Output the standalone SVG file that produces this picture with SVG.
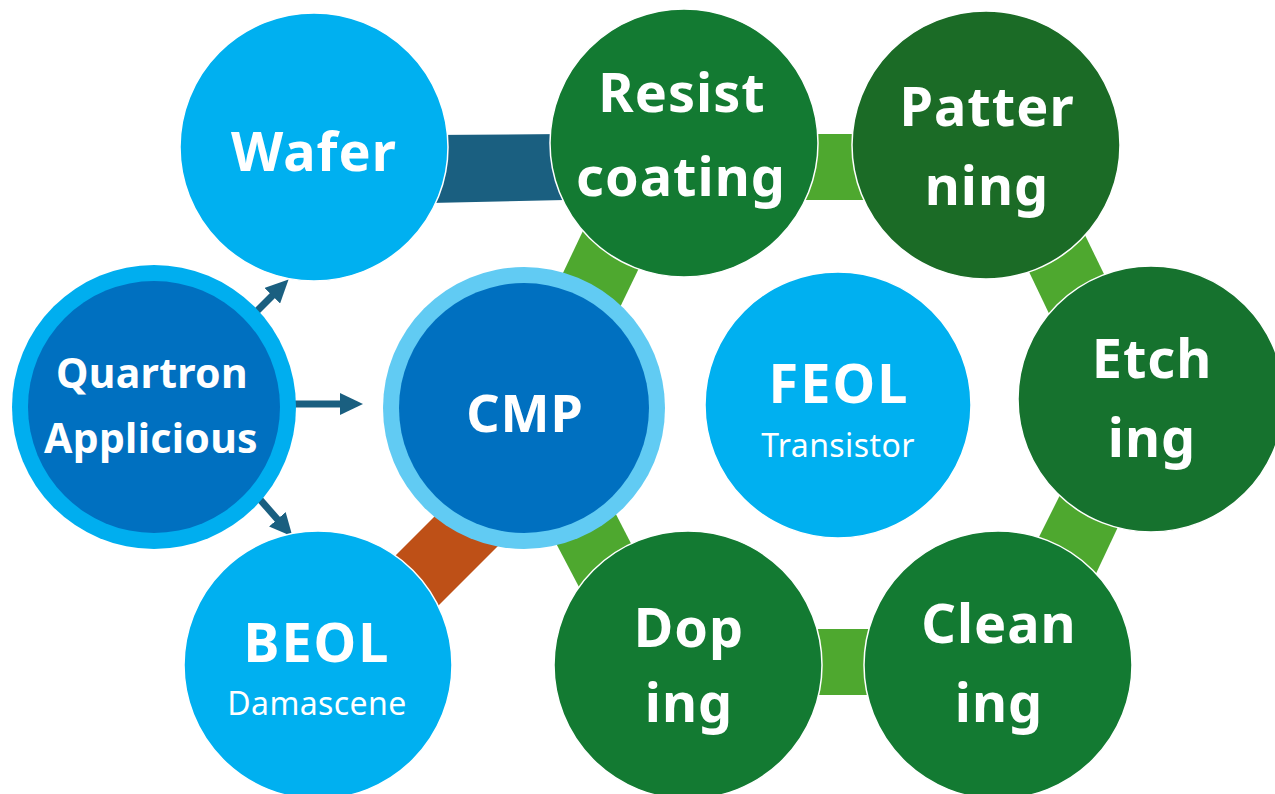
<svg xmlns="http://www.w3.org/2000/svg" width="1275" height="794" viewBox="0 0 1275 794">
<style>
.lt{fill:#00B0F0;stroke:#fff;stroke-width:1.5}
.gr{fill:#137A32;stroke:#fff;stroke-width:1.5}
.gd{fill:#1B6B26;stroke:#fff;stroke-width:1.5}
.ge{fill:#16722E;stroke:#fff;stroke-width:1.5}
.band{fill:#4EA82F}
.t{font-family:"Noto Sans","Liberation Sans",sans-serif;font-weight:bold;fill:#fff;text-anchor:middle;font-size:54px;letter-spacing:1px}
.q{font-size:41px;letter-spacing:0.3px}
.s{font-family:"Noto Sans","Liberation Sans",sans-serif;font-weight:normal;fill:#fff;text-anchor:middle;font-size:32px;letter-spacing:0.4px}
.arr{stroke:#1A5F80;stroke-width:7;fill:none;marker-end:url(#ah)}
</style>
<defs>
<marker id="ah" viewBox="0 0 23 22" markerWidth="23" markerHeight="22" markerUnits="userSpaceOnUse" refX="1" refY="11" orient="auto">
<path d="M0,0 L23,11 L0,22 z" fill="#1A5F80"/>
</marker>
</defs>
<rect width="1275" height="794" fill="#fff"/>
<g id="connectors">
<polygon points="430,135 565,134 565,200 430,203" fill="#1A5F80"/>
<rect class="band" x="790" y="134" width="90" height="66"/>
<polygon class="band" points="1010,232 1067,198 1120,307 1065,347"/>
<polygon class="band" points="1075,465 1133,495 1085,597 1025,565"/>
<rect class="band" x="800" y="629" width="90" height="66"/>
<polygon class="band" points="553,294 600,195 655,235 610,328"/>
<polygon class="band" points="548,528 605,493 655,590 600,627"/>
<polygon points="325.5,625.5 500.5,450.5 547,497 372,672" fill="#BE5017"/>
<line class="arr" x1="245" y1="323" x2="273" y2="295"/>
<line class="arr" x1="285" y1="404" x2="341" y2="404"/>
<line class="arr" x1="250" y1="488" x2="278" y2="520"/>
</g>
<g id="wafer">
<circle class="lt" cx="314" cy="147" r="134"/>
<text class="t" x="314" y="171">Wafer</text>
</g>
<g id="resist">
<circle class="gr" cx="684" cy="143" r="134"/>
<text class="t" x="682" y="112">Resist</text>
<text class="t" x="681" y="196">coating</text>
</g>
<g id="patterning">
<circle class="gd" cx="986" cy="145" r="134"/>
<text class="t" x="987" y="126">Patter</text>
<text class="t" x="987" y="205">ning</text>
</g>
<g id="etching">
<circle class="ge" cx="1151" cy="399" r="133"/>
<text class="t" x="1152" y="378">Etch</text>
<text class="t" x="1152" y="457">ing</text>
</g>
<g id="cleaning">
<circle class="gr" cx="998" cy="665" r="134"/>
<text class="t" x="999" y="643">Clean</text>
<text class="t" x="999" y="722">ing</text>
</g>
<g id="doping">
<circle class="gr" cx="688" cy="665" r="134"/>
<text class="t" x="689" y="647">Dop</text>
<text class="t" x="689" y="722">ing</text>
</g>
<g id="feol">
<circle class="lt" cx="838" cy="405" r="133"/>
<text class="t" x="839" y="403" style="letter-spacing:2px">FEOL</text>
<text class="s" x="838" y="457">Transistor</text>
</g>
<g id="beol">
<circle class="lt" cx="318" cy="665" r="134"/>
<text class="t" x="317" y="662" style="letter-spacing:2px">BEOL</text>
<text class="s" x="317" y="715">Damascene</text>
</g>
<g id="cmp">
<circle cx="524" cy="408" r="141" fill="#61CBF3"/>
<circle cx="524" cy="408" r="125" fill="#0070C0"/>
<text class="t" x="525" y="432" style="font-size:52px">CMP</text>
</g>
<g id="quartron">
<circle cx="154" cy="407" r="142" fill="#00AEEF"/>
<circle cx="154" cy="407" r="126" fill="#0070C0"/>
<text class="t q" x="152" y="388">Quartron</text>
<text class="t q" x="151" y="453">Applicious</text>
</g>
</svg>
